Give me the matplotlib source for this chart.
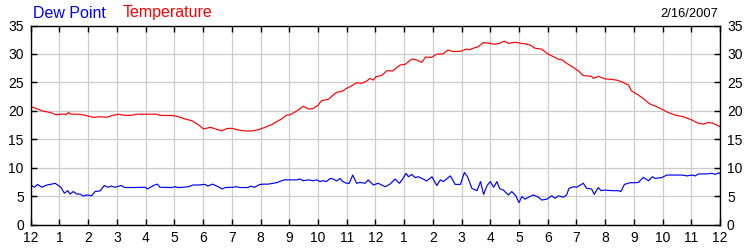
import matplotlib
matplotlib.use("Agg")
import matplotlib.pyplot as plt

plt.rcParams['font.family'] = ['Liberation Sans', 'DejaVu Sans']

# Hours since midnight
temp_hours = [0, 0.21, 0.38, 0.67, 0.9, 1.07, 1.25, 1.31, 1.42, 1.71, 1.94, 2.17, 2.41, 2.64,
              2.82, 3.05, 3.28, 3.51, 3.69, 3.98, 4.39, 4.5, 4.97, 5.15, 5.38, 5.61, 5.85,
              6.02, 6.26, 6.49, 6.66, 6.84, 7.02, 7.25, 7.48, 7.71, 7.95, 8.16, 8.4, 8.6,
              8.75, 8.89, 9.03, 9.26, 9.49, 9.67, 9.84, 10.01, 10.13, 10.36, 10.54, 10.65,
              10.83, 11.0, 11.18, 11.35, 11.52, 11.7, 11.81, 11.93, 12.02, 12.22, 12.4,
              12.6, 12.86, 13.03, 13.27, 13.44, 13.61, 13.75, 13.96, 14.13, 14.36, 14.53,
              14.71, 15.0, 15.17, 15.29, 15.4, 15.58, 15.76, 15.99, 16.16, 16.31, 16.49,
              16.63, 16.86, 17.1, 17.27, 17.39, 17.56, 17.79, 18.02, 18.25, 18.37, 18.49,
              18.66, 18.89, 19.07, 19.24, 19.53, 19.59, 19.77, 20.0, 20.17, 20.4, 20.58,
              20.81, 20.92, 21.15, 21.39, 21.56, 21.73, 21.91, 22.2, 22.43, 22.72, 23.01,
              23.24, 23.41, 23.59, 23.76, 24.0]
temperature = [20.7, 20.4, 20.0, 19.7, 19.3, 19.4, 19.4, 19.7, 19.4, 19.4, 19.15, 18.85, 18.95,
               18.85, 19.15, 19.4, 19.2, 19.2, 19.4, 19.4, 19.4, 19.2, 19.15, 18.95, 18.55,
               18.25, 17.5, 16.8, 17.1, 16.7, 16.5, 16.9, 16.9, 16.6, 16.45, 16.45, 16.7,
               17.1, 17.6, 18.2, 18.6, 19.2, 19.3, 19.96, 20.8, 20.3, 20.4, 21.0, 21.8,
               22.0, 22.8, 23.25, 23.4, 23.95, 24.4, 24.95, 24.8, 25.25, 25.7, 25.4, 26.0,
               26.2, 27.05, 27.0, 28.05, 28.15, 29.1, 28.95, 28.5, 29.45, 29.4, 29.95,
               30.0, 30.7, 30.4, 30.5, 30.85, 30.75, 31.0, 31.25, 32.0, 31.85, 31.7, 31.85,
               32.25, 31.85, 32.05, 31.85, 31.7, 31.55, 31.0, 30.85, 29.95, 29.4, 29.05,
               29.0, 28.35, 27.65, 27.0, 26.2, 26.05, 25.7, 26.05, 25.6, 25.55, 25.4,
               25.1, 24.55, 23.5, 22.8, 21.9, 21.2, 20.85, 20.45, 19.7, 19.25, 18.95,
               18.4, 17.8, 17.65, 17.95, 17.8, 17.2]

dew_hours = [0.0, 0.13, 0.24, 0.38, 0.56, 0.73, 0.85, 0.96, 1.05, 1.17, 1.29, 1.37, 1.48, 1.6,
             1.72, 1.83, 1.95, 2.12, 2.24, 2.41, 2.56, 2.7, 2.8, 2.94, 3.14, 3.28, 3.57,
             3.98, 4.07, 4.27, 4.41, 4.5, 4.91, 5.02, 5.14, 5.31, 5.49, 5.66, 5.84, 6.07,
             6.16, 6.33, 6.48, 6.67, 6.77, 7.05, 7.14, 7.29, 7.55, 7.67, 7.79, 7.98, 8.13,
             8.27, 8.56, 8.82, 9.03, 9.26, 9.38, 9.49, 9.67, 9.84, 9.96, 10.07, 10.19,
             10.3, 10.42, 10.53, 10.65, 10.77, 10.86, 11.0, 11.09, 11.21, 11.35, 11.46,
             11.64, 11.75, 11.93, 12.1, 12.34, 12.51, 12.69, 12.77, 12.84, 12.96, 13.07,
             13.15, 13.27, 13.38, 13.5, 13.68, 13.79, 13.97, 14.14, 14.26, 14.37, 14.61,
             14.78, 14.96, 15.1, 15.21, 15.36, 15.54, 15.66, 15.77, 15.89, 16.0, 16.12,
             16.23, 16.33, 16.46, 16.63, 16.75, 16.89, 17.0, 17.1, 17.21, 17.33, 17.5,
             17.68, 17.79, 17.97, 18.14, 18.26, 18.37, 18.55, 18.66, 18.74, 18.9, 19.01,
             19.24, 19.36, 19.53, 19.62, 19.76, 19.86, 20.0, 20.23, 20.46, 20.55, 20.67,
             20.87, 21.04, 21.16, 21.33, 21.51, 21.65, 21.74, 21.97, 22.15, 22.44, 22.67,
             22.85, 23.02, 23.14, 23.25, 23.54, 23.72, 23.84, 23.95, 24.0]
dew_point = [6.95, 6.55, 7.05, 6.55, 6.95, 7.1, 7.25, 6.85, 6.55, 5.5, 5.95, 5.35, 5.8, 5.35,
             5.35, 5.0, 5.2, 5.05, 5.8, 5.9, 6.85, 6.55, 6.75, 6.55, 6.85, 6.5, 6.5, 6.55,
             6.25, 6.85, 7.1, 6.55, 6.5, 6.65, 6.5, 6.55, 6.65, 6.95, 6.95, 7.05, 6.75,
             7.1, 6.75, 6.25, 6.5, 6.55, 6.65, 6.5, 6.5, 6.75, 6.55, 7.05, 7.1, 7.1,
             7.35, 7.85, 7.85, 7.85, 8.0, 7.7, 7.85, 7.7, 7.85, 7.55, 7.7, 7.55, 8.1,
             8.0, 7.65, 8.1, 7.55, 7.25, 7.25, 8.7, 7.25, 7.4, 7.25, 7.85, 6.95, 7.25,
             6.65, 7.1, 8.0, 7.55, 7.25, 8.1, 9.0, 8.4, 8.8, 8.25, 8.4, 7.95, 7.65, 8.4,
             6.85, 7.85, 7.55, 8.55, 7.05, 7.05, 9.15, 8.4, 6.35, 5.95, 7.55, 5.3, 6.85,
             7.55, 6.55, 7.55, 6.3, 6.05, 5.2, 5.8, 5.05, 3.85, 4.9, 4.45, 4.8, 5.2, 4.8,
             4.3, 4.45, 5.05, 4.6, 5.05, 4.8, 5.2, 6.35, 6.65, 6.55, 7.25, 6.35, 6.25,
             5.3, 6.5, 5.95, 6.05, 5.95, 5.95, 5.8, 7.05, 7.35, 7.35, 7.4, 8.3, 7.7, 8.4,
             8.1, 8.25, 8.7, 8.7, 8.7, 8.55, 8.7, 8.55, 8.9, 8.9, 9.0, 8.8, 9.1, 8.9]

hour_ticks = list(range(0, 25))
hour_labels = ['12', '1', '2', '3', '4', '5', '6', '7', '8', '9', '10', '11',
               '12', '1', '2', '3', '4', '5', '6', '7', '8', '9', '10', '11', '12']
y_ticks = [0, 5, 10, 15, 20, 25, 30, 35]

fig = plt.figure(figsize=(7.5, 2.5), dpi=100)
ax = fig.add_axes([0.041, 0.102, 0.919, 0.796])

ax.plot(temp_hours, temperature, color='#ff0000', lw=0.85)
ax.plot(dew_hours, dew_point, color='#0000ff', lw=0.85)

ax.set_xlim(0, 24)
ax.set_ylim(0, 35)
ax.set_xticks(hour_ticks)
ax.set_xticklabels(hour_labels)
ax.set_yticks(y_ticks)
ax.grid(True, color='#cccccc', lw=0.9)
ax.set_axisbelow(True)
for s in ax.spines.values():
    s.set_color('black')
    s.set_linewidth(1.0)
ax.tick_params(axis='both', which='major', direction='in', length=4, width=1,
               top=True, right=True, labelright=True, labelsize=10, pad=5,
               colors='black', labelcolor='#000000')

fig.text(0.044, 0.948, 'Dew Point', color='#0000ff', fontsize=11.5, va='center', ha='left')
fig.text(0.163, 0.948, 'Temperature', color='#ff0000', fontsize=11.5, va='center', ha='left')
fig.text(0.957, 0.944, '2/16/2007', color='#000000', fontsize=9.3, va='center', ha='right')

fig.savefig('out.png', dpi=100)
